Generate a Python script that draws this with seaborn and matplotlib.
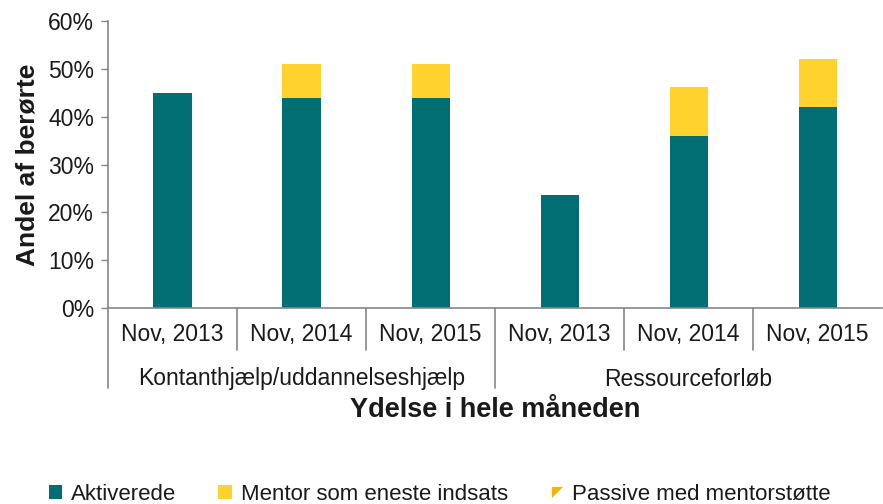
import matplotlib
matplotlib.use("Agg")
import matplotlib.pyplot as plt
import seaborn as sns
import pandas as pd
from matplotlib.patches import Patch
from matplotlib.lines import Line2D
from matplotlib.transforms import blended_transform_factory

# ---- data ----
groups = ["Kontanthjælp/uddannelseshjælp", "Ressourceforløb"]
periods = ["Nov, 2013", "Nov, 2014", "Nov, 2015"]
aktiverede = [45.0, 44.0, 44.0, 23.6, 36.0, 42.0]
mentor_eneste = [0.0, 7.0, 7.0, 0.0, 10.2, 10.0]
passive_mentor = [0.0, 0.0, 0.0, 0.0, 0.0, 0.0]
series_names = ["Aktiverede", "Mentor som eneste indsats", "Passive med mentorstøtte"]
y_ticks = [0, 10, 20, 30, 40, 50, 60]

teal = "#006E73"
yellow = "#FFD22E"
orange = "#F7B500"
grey = "#868686"

sns.set_theme(style="white")
plt.rcParams["font.family"] = ["Liberation Sans", "DejaVu Sans"]

cats = [f"{g}|{p}" for g in groups for p in periods]
df = pd.DataFrame({
    "cat": cats,
    "akt": aktiverede,
    "top1": [a + m for a, m in zip(aktiverede, mentor_eneste)],
    "top2": [a + m + p for a, m, p in zip(aktiverede, mentor_eneste, passive_mentor)],
})

fig = plt.figure(figsize=(8.83, 5.04), dpi=100)
ax = fig.add_axes([108 / 883, 1 - 308 / 504, 1 - 108 / 883 - 0.001, (308 - 21) / 504])

w = 0.295
sns.barplot(data=df, x="cat", y="top2", color=orange, width=w, saturation=1, ax=ax)
sns.barplot(data=df, x="cat", y="top1", color=yellow, width=w, saturation=1, ax=ax)
sns.barplot(data=df, x="cat", y="akt", color=teal, width=w, saturation=1, ax=ax)
for p in ax.patches:
    p.set_linewidth(0)

ax.set_ylim(0, 60)
ax.set_xlim(-0.5, len(cats) - 0.5)
ax.set_yticks(y_ticks)
ax.set_yticklabels([f"{t}%" for t in y_ticks], fontsize=16.5, color="#1a1a1a")
ax.tick_params(axis="y", left=True, length=5, width=1, color=grey, pad=5)
ax.set_xticks([])
ax.set_xlabel("")
ax.set_ylabel("Andel af berørte", fontsize=19, fontweight="bold", color="#1a1a1a", labelpad=6)

for s in ["top", "right"]:
    ax.spines[s].set_visible(False)
for s in ["left", "bottom"]:
    ax.spines[s].set_color(grey)
    ax.spines[s].set_linewidth(1.2)

# multi-level category axis
trans = blended_transform_factory(ax.transData, ax.transAxes)
px = 1 / (308 - 21)  # one pixel in axes fraction (vertical)
for i, c in enumerate(cats):
    ax.text(i, -27 * px, periods[i % len(periods)], transform=trans,
            ha="center", va="center", fontsize=16.5, color="#1a1a1a")
for i in range(1, len(cats)):
    if i % len(periods) == 0:
        continue
    ax.add_line(Line2D([i - 0.5, i - 0.5], [0, -42 * px], transform=trans,
                       color=grey, lw=1.2, clip_on=False))
for gi in range(len(groups) + 1):
    xb = gi * len(periods) - 0.5
    if xb >= len(cats) - 0.5:
        continue
    ax.add_line(Line2D([xb, xb], [0, -80 * px], transform=trans,
                       color=grey, lw=1.2, clip_on=False))
for gi, g in enumerate(groups):
    xc = gi * len(periods) + (len(periods) - 1) / 2
    ax.text(xc, -71 * px, g, transform=trans, ha="center", va="center",
            fontsize=16.5, color="#1a1a1a")

fig.text(0.5 * (108 + 883) / 883, 1 - 410 / 504, "Ydelse i hele måneden",
         ha="center", va="center", fontsize=19.5, fontweight="bold", color="#1a1a1a")

# legend
handles = [
    Patch(facecolor=teal, edgecolor="none"),
    Patch(facecolor=yellow, edgecolor="none"),
    Line2D([], [], linestyle="none", marker=[(-1, 1), (1, 1), (-1, -1)],
           markersize=8, markerfacecolor=orange, markeredgecolor="none"),
]
fig.legend(handles, series_names, loc="center", bbox_to_anchor=(0.498, 1 - 494 / 504),
           ncol=3, frameon=False, fontsize=16, handlelength=0.6, handleheight=0.6,
           handletextpad=0.4, columnspacing=1.9, labelcolor="#1a1a1a")

fig.savefig("out.png", dpi=100)
